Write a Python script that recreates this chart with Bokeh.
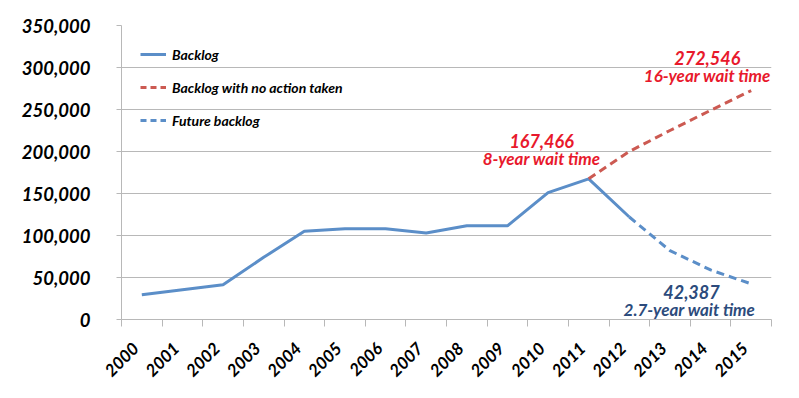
import math
from bokeh.plotting import figure
from bokeh.models import (FixedTicker, NumeralTickFormatter, Range1d, Legend, LegendItem,
                          ColumnDataSource)
from bokeh.core.properties import value
from bokeh.embed import file_html
from bokeh.resources import INLINE

# ---- data ----
years = [str(y) for y in range(2000, 2016)]
backlog_years = years[0:13]          # 2000-2012 (actual)
backlog = [29500, 35500, 41500, 74000, 105000, 108000, 108000, 103000,
           111500, 111500, 151000, 167466, 122000]
future_years = years[12:16]          # 2012-2015
future_backlog = [122000, 82000, 59000, 42387]
noaction_years = years[11:16]        # 2011-2015
noaction_backlog = [167466, 200000, 225000, 249000, 272546]
y_ticks = [0, 50000, 100000, 150000, 200000, 250000, 300000, 350000]

FONT = "Lato"
BLUE = "#5b8ec8"
RED_LINE = "#cc5a52"
RED_TXT = "#e8192c"
BLUE_TXT = "#2c4b7c"
GRID = "#b8b8b8"

idx = {y: i + 0.5 for i, y in enumerate(years)}

p = figure(width=790, height=390, output_backend="svg", toolbar_location=None,
           x_range=Range1d(0, len(years)), y_range=Range1d(0, 350000),
           min_border_left=121, min_border_right=19, min_border_top=25,
           min_border_bottom=71)
p.outline_line_color = None

r1 = p.line([idx[y] for y in backlog_years], backlog, line_color=BLUE, line_width=3)
r2 = p.line([idx[y] for y in noaction_years], noaction_backlog, line_color=RED_LINE,
            line_width=3, line_dash="8 5")
r3 = p.line([idx[y] for y in future_years], future_backlog, line_color=BLUE,
            line_width=3, line_dash="8 5")

# legend proxies (not drawn: NaN data) for a finer dash in the legend swatches
nan = float("nan")
l1 = p.line([nan], [nan], line_color=BLUE, line_width=3)
l2 = p.line([nan], [nan], line_color=RED_LINE, line_width=3, line_dash="6 4")
l3 = p.line([nan], [nan], line_color=BLUE, line_width=3, line_dash="6 4")

# axes
label_pos = {y: idx[y] - 0.15 for y in years}
xa = p.xaxis[0]
xa.ticker = FixedTicker(ticks=[label_pos[y] for y in years],
                        minor_ticks=list(range(len(years) + 1)))
xa.major_label_overrides = {label_pos[y]: y for y in years}
xa.major_label_orientation = math.pi / 4
xa.major_label_text_font = FONT
xa.major_label_text_font_style = "bold italic"
xa.major_label_text_font_size = "17px"
xa.major_label_text_color = "black"
xa.major_tick_line_color = None
xa.minor_tick_line_color = GRID
xa.minor_tick_out = 7
xa.minor_tick_in = 0
xa.axis_line_color = GRID
xa.major_label_standoff = 19

ya = p.yaxis[0]
ya.ticker = FixedTicker(ticks=y_ticks)
ya.formatter = NumeralTickFormatter(format="0,0")
ya.major_label_text_font = FONT
ya.major_label_text_font_style = "bold italic"
ya.major_label_text_font_size = "18.5px"
ya.major_label_text_color = "black"
ya.major_tick_line_color = GRID
ya.major_tick_out = 5
ya.major_tick_in = 0
ya.minor_tick_line_color = None
ya.axis_line_color = GRID
ya.major_label_standoff = 26

p.xgrid.grid_line_color = None
p.ygrid.grid_line_color = GRID
p.ygrid.grid_line_width = 1

# legend
legend = Legend(items=[LegendItem(label="Backlog", renderers=[l1]),
                       LegendItem(label="Backlog with no action taken", renderers=[l2]),
                       LegendItem(label="Future backlog", renderers=[l3])],
                location="top_left", margin=19, padding=0, spacing=13,
                label_height=20, glyph_height=20, glyph_width=26, label_standoff=6,
                border_line_color=None, background_fill_alpha=0,
                label_text_font=FONT, label_text_font_style="bold italic",
                label_text_font_size="14px", label_text_color="black")
p.add_layout(legend)

# annotations
def fmt(v):
    return f"{v:,}"

ann = ColumnDataSource(dict(
    x=[10.34, 10.34, 14.42, 14.42, 14.03, 13.98],
    y=[213000, 191700, 311900, 290500, 33300, 11900],
    t=[fmt(backlog[11]), "8-year wait time", fmt(noaction_backlog[-1]), "16-year wait time",
       fmt(future_backlog[-1]), "2.7-year wait time"],
    c=[RED_TXT, RED_TXT, RED_TXT, RED_TXT, BLUE_TXT, BLUE_TXT],
    s=["18px", "17px", "18px", "17px", "18px", "17px"],
))
p.text(x="x", y="y", text="t", text_color="c", text_font_size="s", source=ann,
       text_font=value(FONT), text_font_style="bold italic",
       text_align="center", text_baseline="middle")

open("out.html", "w").write(file_html(p, INLINE))
